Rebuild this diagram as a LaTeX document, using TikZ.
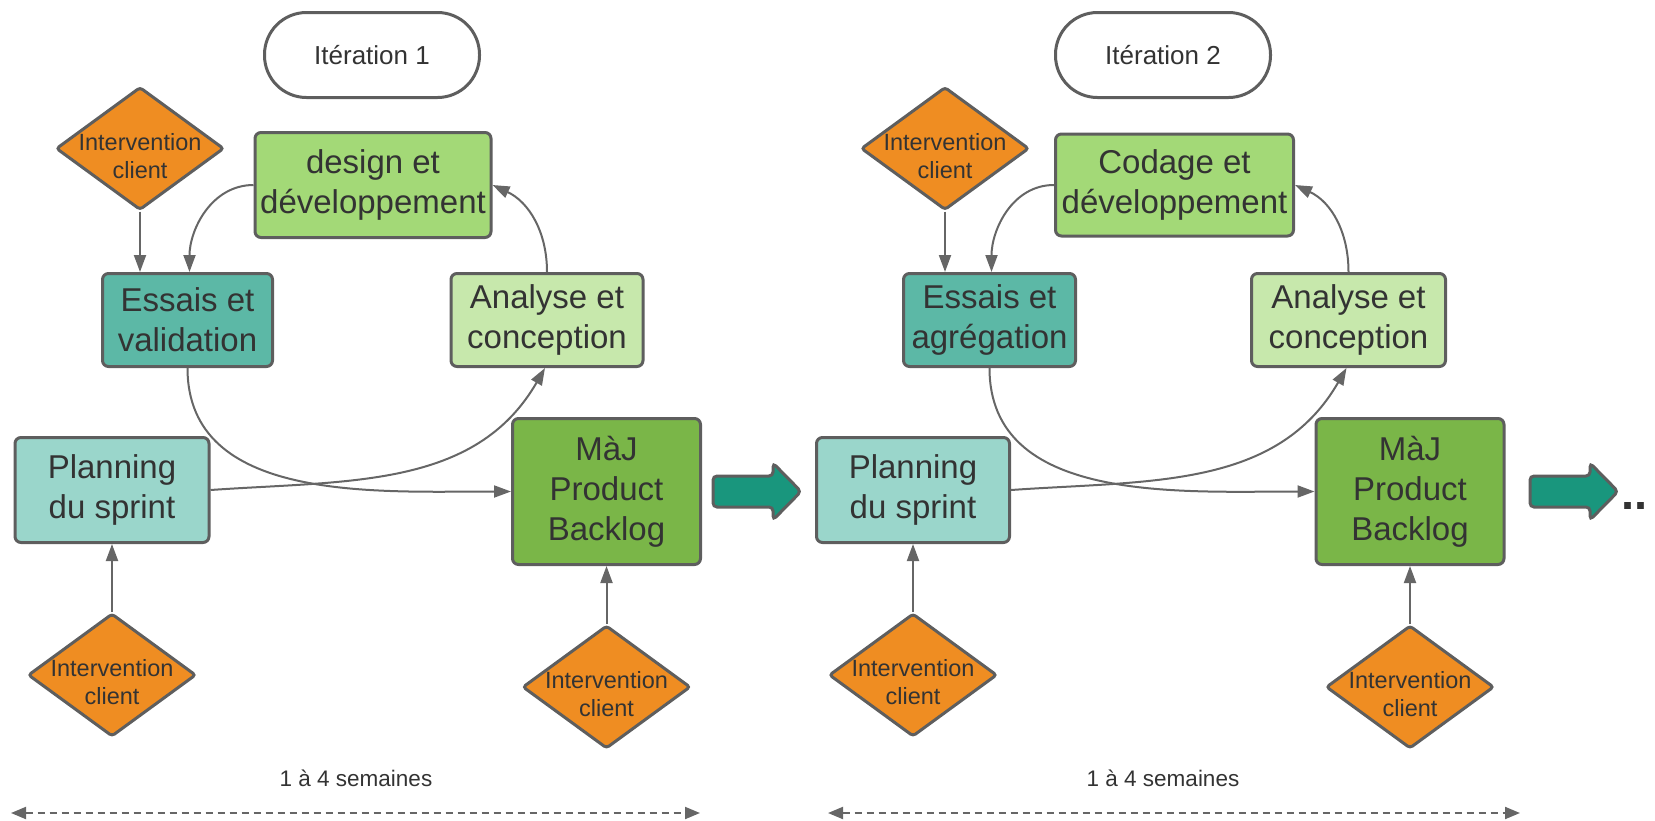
\documentclass[tikz,border=0pt]{standalone}
\usepackage{fontspec}
\setmainfont{Liberation Sans}
\usetikzlibrary{shapes.geometric,arrows.meta}
\definecolor{orangeC}{HTML}{EF8D22}
\definecolor{lgreen}{HTML}{A3D977}
\definecolor{tealC}{HTML}{5CB8A6}
\definecolor{pgreen}{HTML}{C7E8AC}
\definecolor{aqua}{HTML}{9AD6CB}
\definecolor{mgreen}{HTML}{7AB648}
\definecolor{darrow}{HTML}{19967D}
\definecolor{bord}{HTML}{5E5E5E}
\definecolor{txt}{HTML}{333333}
\definecolor{lineC}{HTML}{666666}
\begin{document}
\begin{tikzpicture}[x=1pt,y=1pt,
  box/.style={draw=bord, line width=3pt, rounded corners=6pt, text=txt, align=center,
    font=\fontsize{33}{40}\selectfont, inner sep=0pt},
  diam/.style={diamond, draw=bord, line width=3pt, fill=orangeC, rounded corners=3pt,
    inner sep=0pt, minimum width=168pt, minimum height=123pt},
  dtext/.style={text=txt, align=center, font=\fontsize{23.5}{28}\selectfont, inner sep=0pt},
  pill/.style={draw=bord, line width=3pt, rounded corners=42pt, fill=white,
    minimum width=215pt, minimum height=85pt, font=\fontsize{26}{30}\selectfont, text=txt},
  conn/.style={draw=lineC, line width=2pt, -{Triangle[length=17pt,width=12pt]}},
  span/.style={draw=lineC, line width=2pt, dash pattern=on 7pt off 5pt,
    {Triangle[length=15pt,width=12pt]}-{Triangle[length=15pt,width=12pt]}},
  semtext/.style={text=txt, font=\fontsize{22.5}{26}\selectfont},
  bigarrow/.style={fill=darrow, draw=bord, line width=3pt, rounded corners=4pt}
]
\useasboundingbox (0,0) rectangle (1655,-820);

% ---------- Iteration 1 ----------
\node[pill] (pill1) at (372,-55) {Itération 1};
\node[diam] (dt1) at (140,-148.5) {};
\node[dtext] (dt1t) at (140,-156) {Intervention\\client};
\node[box, fill=lgreen, minimum width=236pt, minimum height=105pt] (des1) at (373,-185) {design et\\développement};
\node[box, fill=tealC, minimum width=170pt, minimum height=93pt] (ess1) at (187.5,-320) {Essais et\\validation};
\node[box, fill=pgreen, minimum width=192pt, minimum height=93pt] (ana1) at (547,-320) {Analyse et\\conception};
\node[box, fill=aqua, minimum width=194pt, minimum height=105pt] (pla1) at (112,-490) {Planning\\du sprint};
\node[box, fill=mgreen, minimum width=188pt, minimum height=146pt] (maj1) at (606.5,-491.5) {MàJ\\Product\\Backlog};
\node[diam] (db1) at (112,-675) {};
\node[dtext] (db1t) at (112,-682) {Intervention\\client};
\node[diam] (db2) at (606.5,-687) {};
\node[dtext] (db2t) at (606.5,-694) {Intervention\\client};
\node[semtext] (sem1) at (356,-778) {1 à 4 semaines};
\coordinate (l1) at (11,-813);
\coordinate (r1) at (700,-813);

\draw[conn] (dt1.south) -- (dt1.south |- ess1.north);
\draw[conn] (des1.west) to[out=180,in=90] ([xshift=2pt]ess1.north);
\draw[conn] (ana1.north) to[out=90,in=-25] (des1.east);
\draw[conn] (ess1.south) to[out=-90,in=180] (maj1.west);
\draw[conn] (pla1.east) to[out=4,in=-120] ([xshift=-2pt]ana1.south);
\draw[conn] (db1.north) -- (db1.north |- pla1.south);
\draw[conn] (db2.north) -- (db2.north |- maj1.south);
\draw[span] (l1) -- (r1);

\draw[bigarrow] (713,-476) -- (773,-476) -- (773,-463) -- (801,-491.5) -- (773,-520) -- (773,-507) -- (713,-507) -- cycle;

% ---------- Iteration 2 ----------
\node[pill] (pill2) at (1163,-55) {Itération 2};
\node[diam] (dt2) at (945,-148.5) {};
\node[dtext] (dt2t) at (945,-156) {Intervention\\client};
\node[box, fill=lgreen, minimum width=238pt, minimum height=102pt] (des2) at (1174.5,-185) {Codage et\\développement};
\node[box, fill=tealC, minimum width=172pt, minimum height=93pt] (ess2) at (989.5,-320) {Essais et\\agrégation};
\node[box, fill=pgreen, minimum width=194pt, minimum height=93pt] (ana2) at (1348.5,-320) {Analyse et\\conception};
\node[box, fill=aqua, minimum width=193pt, minimum height=105pt] (pla2) at (913,-490) {Planning\\du sprint};
\node[box, fill=mgreen, minimum width=188pt, minimum height=146pt] (maj2) at (1410,-491.5) {MàJ\\Product\\Backlog};
\node[diam] (db3) at (913,-675) {};
\node[dtext] (db3t) at (913,-682) {Intervention\\client};
\node[diam] (db4) at (1410,-687) {};
\node[dtext] (db4t) at (1410,-694) {Intervention\\client};
\node[semtext] (sem2) at (1163,-778) {1 à 4 semaines};
\coordinate (l2) at (828,-813);
\coordinate (r2) at (1520,-813);

\draw[conn] (dt2.south) -- (dt2.south |- ess2.north);
\draw[conn] (des2.west) to[out=180,in=90] ([xshift=2pt]ess2.north);
\draw[conn] (ana2.north) to[out=90,in=-25] (des2.east);
\draw[conn] (ess2.south) to[out=-90,in=180] (maj2.west);
\draw[conn] (pla2.east) to[out=4,in=-120] ([xshift=-2pt]ana2.south);
\draw[conn] (db3.north) -- (db3.north |- pla2.south);
\draw[conn] (db4.north) -- (db4.north |- maj2.south);
\draw[span] (l2) -- (r2);

\draw[bigarrow] (1530,-476) -- (1590,-476) -- (1590,-463) -- (1618,-491.5) -- (1590,-520) -- (1590,-507) -- (1530,-507) -- cycle;
\node[anchor=base west, inner sep=0pt, text=txt, font=\bfseries\fontsize{47}{50}\selectfont] (dots) at (1621,-509) {..};
\end{tikzpicture}
\end{document}
